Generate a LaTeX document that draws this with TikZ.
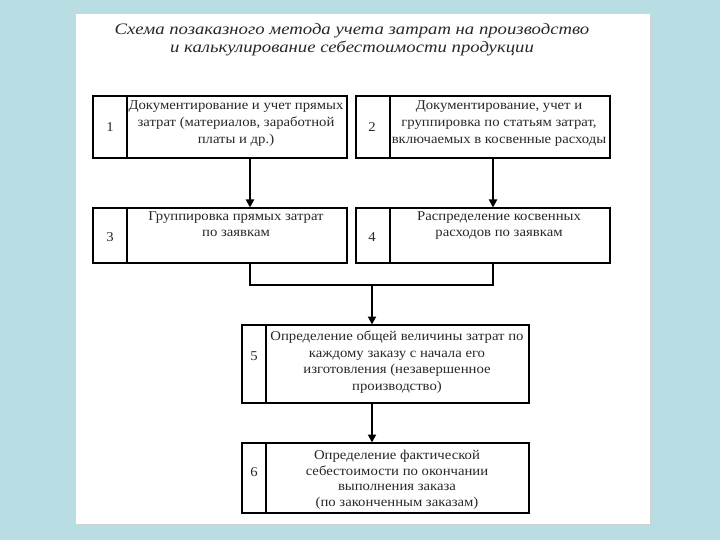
\documentclass[tikz,border=0pt]{standalone}
\usepackage{fontspec}
\setmainfont{Liberation Serif}
\newfontfamily\widefont[FakeStretch=1.09]{Liberation Serif}
\newfontfamily\titlefont[FakeStretch=1.17,ItalicFont={Liberation Serif Italic}]{Liberation Serif}
\usetikzlibrary{arrows.meta}
\definecolor{bgblue}{RGB}{184,221,227}
\definecolor{ink}{RGB}{40,40,40}
\tikzset{
  box/.style={draw=black, line width=1.9pt, rectangle, anchor=north west, inner sep=0pt, fill=white},
  divline/.style={draw=black, line width=1.6pt},
  num/.style={font=\widefont\fontsize{13.5}{16}\selectfont, text=ink, inner sep=0pt},
  txt/.style={font=\widefont\fontsize{13.5}{16.5}\selectfont, text=ink, align=center, anchor=north, inner sep=0pt},
  txttop/.style={txt, font=\widefont\fontsize{13.5}{17.3}\selectfont},
  txttight/.style={txt, font=\widefont\fontsize{13.5}{15.5}\selectfont},
  link/.style={draw=black, line width=1.9pt},
  arr/.style={link, -{Triangle[length=8pt,width=8pt]}, shorten >=-0.5pt},
}
\begin{document}
\begin{tikzpicture}[x=1pt,y=-1pt]
\useasboundingbox (0,0) rectangle (720,540);
\fill[bgblue] (0,0) rectangle (720,540);
\fill[black!18] (78,16) rectangle (652,526);
\fill[white] (76,14) rectangle (650,524);
% title
\node[font=\titlefont\itshape\fontsize{16}{18}\selectfont, text=ink, align=center, inner sep=0pt] (title) at (352,40)
  {Схема позаказного метода учета затрат на производство\\и калькулирование себестоимости продукции};
% boxes
\node[box, minimum width=254pt, minimum height=62pt] (b1) at (92,95) {};
\node[box, minimum width=254pt, minimum height=62pt] (b2) at (355,95) {};
\node[box, minimum width=254pt, minimum height=55pt] (b3) at (92,207) {};
\node[box, minimum width=254pt, minimum height=55pt] (b4) at (355,207) {};
\node[box, minimum width=287pt, minimum height=78pt] (b5) at (241,324) {};
\node[box, minimum width=287pt, minimum height=70pt] (b6) at (241,442) {};
% dividers
\coordinate (d1) at (127,0);
\coordinate (d2) at (390,0);
\coordinate (d5) at (266,0);
\draw[divline] (b1.north -| d1) -- (b1.south -| d1);
\draw[divline] (b3.north -| d1) -- (b3.south -| d1);
\draw[divline] (b2.north -| d2) -- (b2.south -| d2);
\draw[divline] (b4.north -| d2) -- (b4.south -| d2);
\draw[divline] (b5.north -| d5) -- (b5.south -| d5);
\draw[divline] (b6.north -| d5) -- (b6.south -| d5);
% numbers
\node[num] (n1) at (110,127) {1};
\node[num] (n2) at (372,127) {2};
\node[num] (n3) at (110,237) {3};
\node[num] (n4) at (372,237) {4};
\node[num] (n5) at (254,356) {5};
\node[num] (n6) at (254,472) {6};
% texts
\node[txttop] (t1) at (236,100) {Документирование и учет прямых\\затрат (материалов, заработной\\платы и др.)};
\node[txttop] (t2) at (499,100) {Документирование, учет и\\группировка по статьям затрат,\\включаемых в косвенные расходы};
\node[txt] (t3) at (236,211) {Группировка прямых затрат\\по заявкам};
\node[txt] (t4) at (499,211) {Распределение косвенных\\расходов по заявкам};
\node[txt] (t5) at (397,331) {Определение общей величины затрат по\\каждому заказу с начала его\\изготовления (незавершенное\\производство)};
\node[txttight] (t6) at (397,450) {Определение фактической\\себестоимости по окончании\\выполнения заказа\\(по законченным заказам)};
% connectors
\coordinate (xa) at (250,0);
\coordinate (xb) at (493,0);
\coordinate (xc) at (372,0);
\coordinate (yj) at (0,285);
\draw[arr] (b1.south -| xa) -- (b3.north -| xa);
\draw[arr] (b2.south -| xb) -- (b4.north -| xb);
\draw[link] (b3.south -| xa) |- (yj -| xc) -| (b4.south -| xb);
\draw[arr] (yj -| xc) -- (b5.north -| xc);
\draw[arr] (b5.south -| xc) -- (b6.north -| xc);
\end{tikzpicture}
\end{document}
